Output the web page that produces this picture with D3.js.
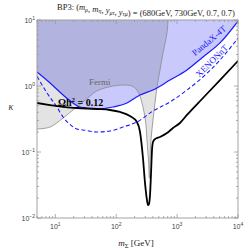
<!DOCTYPE html>
<html>
<head>
<meta charset="utf-8">
<script src="https://cdn.jsdelivr.net/npm/d3@7"></script>
<style>
  body { margin: 0; background: #fff; }
  svg { display: block; }
</style>
</head>
<body>
<div id="chart"></div>
<script>
// relic-density / direct-detection constraints
// each curve is a list of [m_Sigma (GeV), kappa]

const xTicks = [10, 100, 1000, 10000];
const yTicks = [10, 1, 0.1, 0.01];

const pandaxLine = [[5, 1.63], [8.2, 1.11], [13.4, 0.731], [19.5, 0.553], [25.4, 0.481], [48, 0.448],
    [89, 0.481], [150, 0.553], [246, 0.731], [402, 0.869], [764, 1.23], [1452, 1.75], [2660, 2.75],
    [5060, 4.49], [10000, 9.6]];

const xenonLine = [[5, 1.41], [7.3, 0.783], [10.6, 0.481], [13.4, 0.339], [17.4, 0.262], [22.7, 0.223],
    [28.5, 0.216], [48, 0.201], [79, 0.208], [129, 0.239], [219, 0.285], [402, 0.418], [764, 0.573],
    [1452, 0.869], [2660, 1.37], [5060, 2.48], [10000, 5.3]];

const relicLine = [[5, 0.553], [8.2, 0.515], [13.4, 0.481], [22.7, 0.464], [48, 0.448], [79, 0.433],
    [115, 0.404], [168, 0.351], [219, 0.285], [246, 0.201], [275, 0.081], [297, 0.0339], [320, 0.0187],
    [332, 0.0157], [345, 0.0163], [359, 0.0223], [372, 0.0449], [387, 0.107], [402, 0.142], [433, 0.157],
    [523, 0.169], [682, 0.194], [855, 0.231], [1114, 0.275], [1452, 0.364], [2660, 0.658], [5060, 1.23],
    [9620, 2.31], [10000, 2.4]];

// Fermi boundary, from the top edge down the funnel and back out to the left edge
const fermiEdge = [[708, 10], [682, 6.35], [586, 3.16], [523, 1.75], [467, 0.966], [433, 0.553],
    [402, 0.305], [372, 0.152], [359, 0.0757], [350, 0.04], [340, 0.07], [320, 0.152], [308, 0.256],
    [286, 0.404], [265, 0.553], [246, 0.705], [219, 0.869], [182, 1.0], [150, 1.03], [115, 1.03],
    [89, 1.0], [65, 0.933], [48, 0.84], [37, 0.705], [28.5, 0.573], [22.7, 0.481], [19.5, 0.433],
    [13.4, 0.327], [8.2, 0.239], [5, 0.223]];

const W = 245, H = 252;
const margin = {top: 20, right: 7, bottom: 34, left: 37};

const svg = d3.select("#chart").append("svg")
    .attr("width", W)
    .attr("height", H);

const x = d3.scaleLog().domain([5, 10000]).range([margin.left, W - margin.right]);
const y = d3.scaleLog().domain([0.01, 10]).range([H - margin.bottom, margin.top]);

svg.append("clipPath").attr("id", "plotclip")
    .append("rect")
    .attr("x", x.range()[0]).attr("y", y.range()[1])
    .attr("width", x.range()[1] - x.range()[0])
    .attr("height", y.range()[0] - y.range()[1]);

const plot = svg.append("g").attr("clip-path", "url(#plotclip)");

const smooth = d3.line().x(d => x(d[0])).y(d => y(d[1])).curve(d3.curveMonotoneX);
const loop = d3.line().x(d => x(d[0])).y(d => y(d[1])).curve(d3.curveCatmullRom.alpha(0.5));

// PandaX-4T excluded region (above the line)
plot.append("path")
    .attr("d", smooth(pandaxLine) + `L${x(10000)},${y(10)}L${x(5)},${y(10)}Z`)
    .attr("fill", "#c9c9fb");

// Fermi excluded region
plot.append("path")
    .attr("d", loop(fermiEdge) + `L${x(5)},${y(10)}Z`)
    .attr("fill", "#000")
    .attr("fill-opacity", 0.11);
plot.append("path")
    .attr("d", loop(fermiEdge))
    .attr("fill", "none")
    .attr("stroke", "#8a8a8a")
    .attr("stroke-width", 0.8);

plot.append("path")
    .attr("d", smooth(pandaxLine))
    .attr("fill", "none")
    .attr("stroke", "#1a1aff")
    .attr("stroke-width", 1.2);

plot.append("path")
    .attr("d", smooth(xenonLine))
    .attr("fill", "none")
    .attr("stroke", "#1a1aff")
    .attr("stroke-width", 1.1)
    .attr("stroke-dasharray", "4,2.5");

plot.append("path")
    .attr("d", smooth(relicLine))
    .attr("fill", "none")
    .attr("stroke", "#000")
    .attr("stroke-width", 1.8)
    .attr("stroke-linejoin", "round");

// curve labels
const serif = "'Liberation Serif', 'DejaVu Serif', serif";

svg.append("text")
    .attr("x", 89).attr("y", 85)
    .attr("font-family", serif).attr("font-size", 9)
    .attr("fill", "#666")
    .text("Fermi");

const omega = svg.append("text")
    .attr("x", 58).attr("y", 106)
    .attr("font-family", serif).attr("font-size", 10).attr("font-weight", "bold")
    .attr("fill", "#000");
omega.append("tspan").text("Ωh");
omega.append("tspan").attr("font-size", 7).attr("dy", -4).text("2");
omega.append("tspan").attr("dy", 4).text(" = 0.12");

svg.append("text")
    .attr("transform", "translate(211,43) rotate(-40)")
    .attr("text-anchor", "middle")
    .attr("font-family", serif).attr("font-size", 9)
    .attr("fill", "#1a1aff")
    .text("PandaX-4T");

svg.append("text")
    .attr("transform", "translate(214,63) rotate(-45)")
    .attr("text-anchor", "middle")
    .attr("font-family", serif).attr("font-size", 9)
    .attr("fill", "#1a1aff")
    .text("XENONnT");

// frame and ticks
const frame = svg.append("g");
const x0 = x.range()[0], x1 = x.range()[1], y0 = y.range()[0], y1 = y.range()[1];
frame.append("rect")
    .attr("x", x0).attr("y", y1)
    .attr("width", x1 - x0).attr("height", y0 - y1)
    .attr("fill", "none").attr("stroke", "#999").attr("stroke-width", 0.9);

const xMinor = [];
[1, 10, 100, 1000].forEach(p => d3.range(2, 10).forEach(k => { if (k * p >= 5) xMinor.push(k * p); }));
const yMinor = [];
[0.01, 0.1, 1].forEach(p => d3.range(2, 10).forEach(k => yMinor.push(k * p)));

function tick(x1_, y1_, x2_, y2_) {
    frame.append("line")
        .attr("x1", x1_).attr("y1", y1_).attr("x2", x2_).attr("y2", y2_)
        .attr("stroke", "#999").attr("stroke-width", 0.8);
}
xTicks.forEach(v => { tick(x(v), y0, x(v), y0 - 4); tick(x(v), y1, x(v), y1 + 4); });
xMinor.forEach(v => { tick(x(v), y0, x(v), y0 - 2); tick(x(v), y1, x(v), y1 + 2); });
yTicks.forEach(v => { tick(x0, y(v), x0 + 4, y(v)); tick(x1, y(v), x1 - 4, y(v)); });
yMinor.forEach(v => { tick(x0, y(v), x0 + 2, y(v)); tick(x1, y(v), x1 - 2, y(v)); });

const sans = "'Liberation Sans', Arial, sans-serif";
xTicks.forEach(v => {
    const t = svg.append("text")
        .attr("x", x(v)).attr("y", y0 + 11)
        .attr("text-anchor", "middle")
        .attr("font-family", sans).attr("font-size", 7)
        .attr("fill", "#444");
    t.append("tspan").text("10");
    t.append("tspan").attr("font-size", 5).attr("dy", -3).text(Math.round(Math.log10(v)));
});
yTicks.forEach(v => {
    const t = svg.append("text")
        .attr("x", x0 - 2).attr("y", y(v) + 2.5)
        .attr("text-anchor", "end")
        .attr("font-family", sans).attr("font-size", 7)
        .attr("fill", "#444");
    t.append("tspan").text("10");
    t.append("tspan").attr("font-size", 5).attr("dy", -3).text(String(Math.round(Math.log10(v))).replace("-", "\u2212"));
});

// axis titles
svg.append("text")
    .attr("x", 11).attr("y", 110)
    .attr("text-anchor", "middle")
    .attr("font-family", serif).attr("font-size", 10).attr("font-style", "italic")
    .attr("fill", "#333")
    .text("κ");

const xl = svg.append("text")
    .attr("x", 136).attr("y", 246)
    .attr("text-anchor", "middle")
    .attr("font-family", serif).attr("font-size", 9)
    .attr("fill", "#222");
xl.append("tspan").attr("font-style", "italic").text("m");
xl.append("tspan").attr("font-size", 6.5).attr("dy", 2).text("Σ");
xl.append("tspan").attr("dy", -2).text(" [GeV]");

// title
const title = svg.append("text")
    .attr("x", 57).attr("y", 10)
    .attr("font-family", serif).attr("font-size", 8.5)
    .attr("fill", "#222");
function sub(base, s) {
    title.append("tspan").attr("font-style", "italic").text(base);
    title.append("tspan").attr("font-size", 6).attr("font-style", "italic").attr("dy", 1.5).text(s);
    title.append("tspan").attr("dy", -1.5).text("");
}
title.append("tspan").text("BP3: (");
sub("m", "ρ"); title.append("tspan").text(", ");
sub("m", "η"); title.append("tspan").text(", ");
sub("y", "μτ"); title.append("tspan").text(", ");
sub("y", "τμ");
title.append("tspan").text(") = (680GeV, 730GeV, 0.7, 0.7)");
</script>
</body>
</html>
